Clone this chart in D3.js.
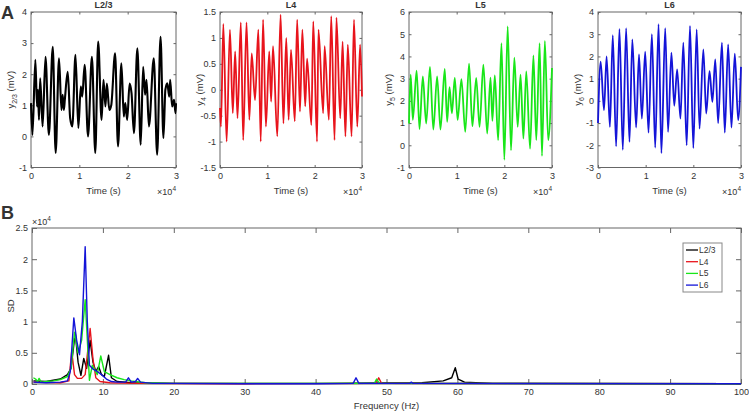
<!DOCTYPE html>
<html><head><meta charset="utf-8">
<script src="https://cdn.jsdelivr.net/npm/d3@7/dist/d3.min.js"></script>
<style>
body{margin:0;background:#fff;}
text{font-family:"Liberation Sans",Arial,sans-serif;fill:#333;}
</style></head>
<body><svg id="c" width="749" height="413"></svg>
<script>
// ---------- DATA ----------
// Panel A time series (time in units of 1e4 s, value in mV), read as turning points
const seriesNames = ["L2/3", "L4", "L5", "L6"];
const seriesColors = ["#000000", "#e8141c", "#19e619", "#1414d8"];
const subLabels = ["2/3", "4", "5", "6"];
const yDomains = [[-1, 4], [-1.5, 1.5], [-1, 6], [-3, 4]];
const yTicks = [[-1,0,1,2,3,4], [-1.5,-1,-0.5,0,0.5,1,1.5], [-1,0,1,2,3,4,5,6], [-3,-2,-1,0,1,2,3,4]];
const timeTicks = [0, 1, 2, 3];

const l23 = [[0,1.07],[0.03,0.05],[0.09,2.46],[0.125,0.96],[0.145,1.5],[0.165,0.53],[0.19,1.87],[0.24,0.32],[0.3,2.56],[0.37,0.05],[0.45,2.88],[0.51,-0.53],[0.58,2.51],[0.63,0.85],[0.655,1.34],[0.68,0.85],[0.7,1.18],[0.76,2.08],[0.81,0.59],[0.855,0.32],[0.92,2.62],[0.98,0.27],[1.03,1.6],[1.06,1.28],[1.11,2.3],[1.18,0.0],[1.26,2.56],[1.33,-0.53],[1.39,3.05],[1.46,0.53],[1.5,1.82],[1.54,0.96],[1.57,1.7],[1.62,0.85],[1.66,1.0],[1.74,2.67],[1.8,-0.32],[1.87,2.35],[1.92,0.64],[1.95,1.07],[1.99,0.53],[2.04,1.7],[2.08,1.39],[2.13,0.1],[2.2,2.83],[2.27,-0.27],[2.32,2.24],[2.36,1.34],[2.39,1.82],[2.44,0.32],[2.54,2.51],[2.61,-0.59],[2.68,3.2],[2.74,-0.05],[2.78,1.5],[2.82,1.71],[2.86,1.28],[2.88,1.82],[2.92,0.96],[2.96,1.18],[2.99,0.75],[3.0,1.07]];
const l4 = [[0,-0.35],[0.02,-0.71],[0.07,1.27],[0.14,-1.0],[0.21,1.16],[0.27,-0.45],[0.32,0.74],[0.37,-0.55],[0.44,1.3],[0.49,-0.97],[0.56,1.3],[0.62,-0.58],[0.67,0.7],[0.74,-0.2],[0.81,1.16],[0.86,-1.0],[0.91,1.35],[0.97,-0.71],[1.04,0.74],[1.08,-0.23],[1.12,0.84],[1.21,-0.9],[1.28,1.45],[1.34,-0.65],[1.4,1.0],[1.45,-0.58],[1.5,0.77],[1.58,-0.61],[1.63,1.35],[1.69,-0.42],[1.74,1.16],[1.8,-0.32],[1.84,0.6],[1.93,-0.68],[1.97,1.32],[2.05,-1.0],[2.08,1.16],[2.18,-0.45],[2.21,0.84],[2.3,-0.58],[2.35,1.42],[2.42,-0.97],[2.46,1.39],[2.54,-0.55],[2.59,0.93],[2.65,-0.9],[2.7,0.87],[2.78,-0.9],[2.83,1.35],[2.9,-0.71],[2.96,0.87],[3.0,-0.13]];
const l5 = [[0,0.98],[0.035,3.18],[0.08,1.14],[0.16,3.36],[0.22,0.73],[0.29,3.1],[0.36,0.98],[0.44,3.53],[0.51,0.71],[0.59,3.1],[0.66,0.71],[0.75,3.44],[0.8,1.06],[0.85,2.62],[0.9,1.44],[0.96,3.03],[1.02,1.14],[1.1,2.98],[1.18,0.6],[1.26,3.68],[1.33,0.86],[1.41,3.03],[1.48,0.83],[1.56,3.63],[1.64,0.53],[1.71,3.05],[1.75,1.1],[1.8,3.15],[1.87,0.23],[1.94,4.6],[2.0,-0.65],[2.07,5.35],[2.14,-0.23],[2.21,3.94],[2.28,0.83],[2.34,3.18],[2.4,0.3],[2.46,3.33],[2.54,-0.15],[2.61,4.05],[2.67,0.23],[2.74,4.6],[2.79,-0.48],[2.85,4.7],[2.92,0.23],[3.0,3.48]];
const l6 = [[0,-1.0],[0.056,1.76],[0.126,-0.42],[0.18,2.0],[0.25,-1.17],[0.31,2.96],[0.38,-2.05],[0.45,3.24],[0.52,-2.2],[0.59,3.27],[0.66,-1.85],[0.72,2.77],[0.8,-1.2],[0.86,2.09],[0.92,-0.8],[0.99,2.21],[1.06,-1.43],[1.13,3.0],[1.2,-2.1],[1.27,3.45],[1.33,-2.35],[1.41,3.27],[1.47,-1.4],[1.54,2.17],[1.6,-0.22],[1.66,1.42],[1.73,-0.8],[1.79,2.62],[1.86,-2.0],[1.93,3.37],[2.0,-2.13],[2.07,3.22],[2.13,-1.25],[2.21,2.32],[2.27,-0.57],[2.34,1.34],[2.4,-0.05],[2.46,1.87],[2.52,-1.0],[2.6,2.62],[2.66,-1.43],[2.73,2.54],[2.8,-1.2],[2.87,2.12],[2.94,-0.87],[3.0,1.53]];
const timeSeries = [l23, l4, l5, l6];

// Panel B spectral density (frequency Hz, SD in units of 1e4)
const freqTicks = [0,10,20,30,40,50,60,70,80,90,100];
const sdTicks = [0,0.5,1,1.5,2,2.5];
const sdL23 = [[0.2,0.05],[2,0.04],[4,0.08],[5,0.15],[5.5,0.25],[6.1,0.82],[6.5,0.35],[6.9,0.14],[7.3,0.41],[7.7,0.25],[8.2,0.7],[8.6,0.35],[9.0,0.2],[9.4,0.28],[9.8,0.15],[10.2,0.12],[10.8,0.46],[11.2,0.1],[12,0.04],[14,0.02],[20,0.01],[40,0.01],[55,0.02],[58,0.05],[59.2,0.1],[59.7,0.26],[60.1,0.08],[61,0.03],[65,0.01],[100,0.003]];
const sdL4 = [[0.2,0.03],[4,0.02],[5.2,0.05],[5.6,0.52],[6.0,0.15],[6.4,0.09],[7.0,0.09],[7.5,0.15],[8.2,0.89],[8.6,0.4],[9.0,0.1],[9.6,0.04],[11,0.02],[15,0.01],[30,0.005],[48.5,0.01],[48.9,0.1],[49.3,0.01],[100,0.003]];
const sdL5 = [[0.2,0.1],[0.5,0.08],[0.8,0.04],[1.0,0.09],[1.3,0.03],[2,0.04],[3,0.05],[4,0.07],[5,0.12],[5.5,0.25],[6.0,0.83],[6.5,0.5],[7.0,0.7],[7.5,1.35],[7.9,0.5],[8.1,0.06],[8.5,0.3],[9.2,0.15],[9.7,0.45],[10.2,0.2],[11,0.15],[12,0.1],[13,0.07],[14,0.05],[16,0.02],[20,0.01],[48.3,0.01],[48.6,0.08],[49,0.01],[100,0.003]];
const sdL6 = [[0.2,0.03],[2,0.02],[4,0.03],[5,0.05],[5.4,0.2],[5.9,1.06],[6.3,0.7],[6.7,0.47],[7.1,1.0],[7.5,2.2],[7.8,1.0],[8.1,0.3],[8.6,0.24],[9.2,0.2],[9.8,0.15],[10.5,0.08],[11.2,0.04],[12,0.03],[13.2,0.03],[13.6,0.1],[14,0.03],[14.6,0.04],[14.9,0.09],[15.3,0.03],[17,0.01],[20,0.01],[30,0.005],[40,0.005],[45.3,0.01],[45.7,0.1],[46.1,0.01],[53.3,0.01],[53.5,0.03],[53.7,0.01],[100,0.003]];
const spectra = [sdL23, sdL4, sdL5, sdL6];

// ---------- DRAW ----------
const svg = d3.select("#c");
const axisCol = "#666";
const fs = 9;

function styleAxis(g){
  g.selectAll(".domain").remove();
  g.selectAll(".tick line").attr("stroke", axisCol);
  g.selectAll(".tick text").attr("fill", "#333").style("font-size", fs + "px").style("font-family", "Liberation Sans, Arial, sans-serif");
}

function boxAxes(x, y, x0, x1, y0, y1, xt, yt, tl, xfmt, yfmt){
  const gb = svg.append("g").attr("transform", `translate(0,${y1})`).call(d3.axisBottom(x).tickValues(xt).tickSize(-tl).tickPadding(5).tickFormat(xfmt)); styleAxis(gb);
  const gt = svg.append("g").attr("transform", `translate(0,${y0})`).call(d3.axisTop(x).tickValues(xt).tickSize(-tl).tickFormat("")); styleAxis(gt);
  const gl = svg.append("g").attr("transform", `translate(${x0},0)`).call(d3.axisLeft(y).tickValues(yt).tickSize(-tl).tickPadding(4).tickFormat(yfmt)); styleAxis(gl);
  const gr = svg.append("g").attr("transform", `translate(${x1},0)`).call(d3.axisRight(y).tickValues(yt).tickSize(-tl).tickFormat("")); styleAxis(gr);
  svg.append("rect").attr("x", x0).attr("y", y0).attr("width", x1 - x0).attr("height", y1 - y0)
    .attr("fill", "none").attr("stroke", axisCol).attr("stroke-width", 1);
}

function times10(xr, yb){
  const t = svg.append("text").attr("x", xr).attr("y", yb).attr("text-anchor", "end").style("font-size", "9px");
  t.append("tspan").text("\u00d710");
  t.append("tspan").attr("dy", -4).style("font-size", "6.5px").text("4");
}

// Panel A
const panelX = [[31, 176], [220, 362], [409, 552], [598, 741]];
const pTop = 12, pBot = 167.5;
for (let i = 0; i < 4; i++) {
  const [x0, x1] = panelX[i];
  const x = d3.scaleLinear().domain([0, 3]).range([x0, x1]);
  const y = d3.scaleLinear().domain(yDomains[i]).range([pBot, pTop]);
  boxAxes(x, y, x0, x1, pTop, pBot, timeTicks, yTicks[i], 2.5, d3.format("d"), d => String(d));
  svg.append("path").datum(timeSeries[i])
    .attr("fill", "none").attr("stroke", seriesColors[i]).attr("stroke-width", i === 0 ? 2.1 : 1.8)
    .attr("stroke-linejoin", "round")
    .attr("d", d3.line().x(d => x(d[0])).y(d => y(d[1])).curve(d3.curveMonotoneX));
  svg.append("text").attr("x", (x0 + x1) / 2).attr("y", 8).attr("text-anchor", "middle")
    .style("font-size", "9px").style("font-weight", "bold").attr("fill", "#111").text(seriesNames[i]);
  svg.append("text").attr("x", (x0 + x1) / 2).attr("y", 194).attr("text-anchor", "middle")
    .style("font-size", "9.5px").text("Time (s)");
  times10(x1, 195);
  const yl = svg.append("text").attr("transform", `translate(${x0 - 17},${(pTop + pBot) / 2}) rotate(-90)`)
    .attr("text-anchor", "middle").style("font-size", "9.5px");
  yl.append("tspan").text("y");
  yl.append("tspan").attr("dy", 3).style("font-size", "7px").text(subLabels[i]);
  yl.append("tspan").attr("dy", -3).text(" (mV)");
}

// Panel B
const bx0 = 32, bx1 = 741, by0 = 228, by1 = 384;
const xB = d3.scaleLinear().domain([0, 100]).range([bx0, bx1]);
const yB = d3.scaleLinear().domain([0, 2.5]).range([by1, by0]);
boxAxes(xB, yB, bx0, bx1, by0, by1, freqTicks, sdTicks, 5, d3.format("d"), d => String(d));
spectra.forEach((s, i) => {
  svg.append("path").datum(s).attr("fill", "none").attr("stroke", seriesColors[i]).attr("stroke-width", 1.4)
    .attr("stroke-linejoin", "round")
    .attr("d", d3.line().x(d => xB(d[0])).y(d => yB(d[1])));
});
svg.append("text").attr("x", (bx0 + bx1) / 2).attr("y", 409).attr("text-anchor", "middle").style("font-size", "9.5px").text("Frequency (Hz)");
svg.append("text").attr("transform", `translate(14,${(by0 + by1) / 2}) rotate(-90)`).attr("text-anchor", "middle").style("font-size", "9.5px").text("SD");
{
  const t = svg.append("text").attr("x", bx0).attr("y", 225).style("font-size", "9px");
  t.append("tspan").text("\u00d710");
  t.append("tspan").attr("dy", -4).style("font-size", "6.5px").text("4");
}

// legend
const lg = svg.append("g");
lg.append("rect").attr("x", 683).attr("y", 243).attr("width", 39).attr("height", 49)
  .attr("fill", "#fff").attr("stroke", "#888").attr("stroke-width", 1);
seriesNames.forEach((n, i) => {
  const yy = 250 + i * 11.7;
  lg.append("line").attr("x1", 686).attr("x2", 698).attr("y1", yy).attr("y2", yy).attr("stroke", seriesColors[i]).attr("stroke-width", 1.3);
  lg.append("text").attr("x", 699).attr("y", yy + 3).style("font-size", "8.5px").text(n);
});

// panel letters
svg.append("text").attr("x", 1).attr("y", 19).style("font-size", "18px").style("font-weight", "bold").attr("fill", "#000").text("A");
svg.append("text").attr("x", 1).attr("y", 219).style("font-size", "18px").style("font-weight", "bold").attr("fill", "#000").text("B");
</script></body></html>
